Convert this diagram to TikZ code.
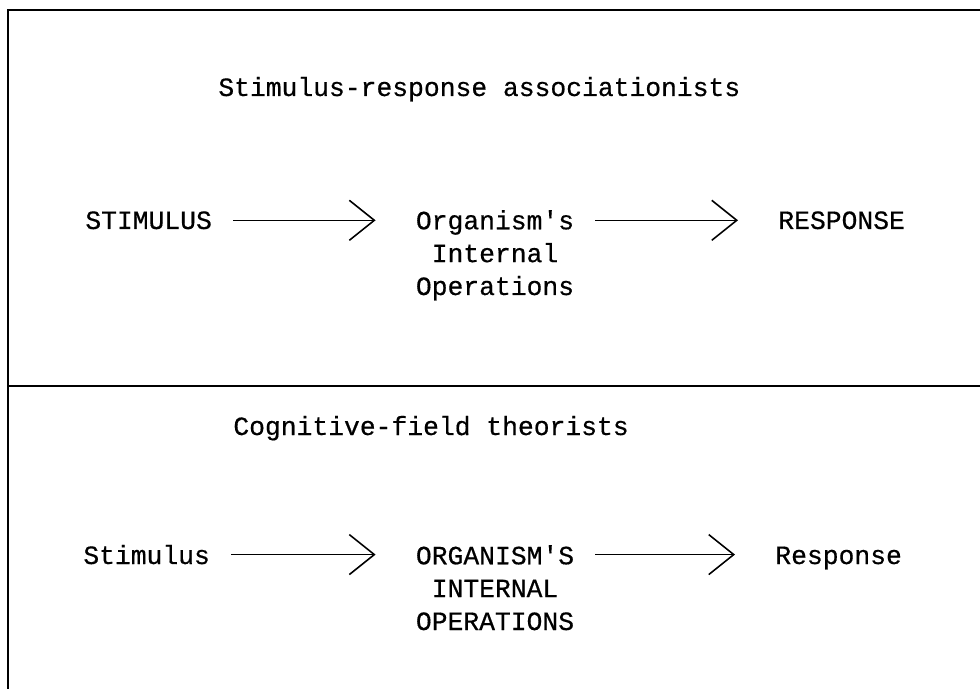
\documentclass[tikz,border=0pt]{standalone}
\usepackage{fontspec}
\setmonofont{Liberation Mono}[FakeBold=0.5]
\usepackage{tikz}
\usetikzlibrary{arrows.meta}
\tikzstyle{txt} = [font=\ttfamily\fontsize{15}{18.7}\selectfont, inner sep=0pt]
\tikzstyle{opsbox} = [txt, align=center]
\tikzstyle{leadsto} = [-{Straight Barb[length=0.5cm,width=0.8cm]}, line width=0.9pt, shorten <=0.42cm, shorten >=0.8cm]

\begin{document}
\begin{tikzpicture}[x=0.02cm,y=-0.02cm]
	\useasboundingbox (0,0) rectangle (980,689);
	\clip (0,0) rectangle (980,689);
	% frame
	\draw[line width=1.2pt] (990,10) -- (8,10) -- (8,700);
	\draw[line width=1.2pt] (8,386) -- (990,386);

	% stimulus-response view
	\node[txt, anchor=base west] (titleA) at (218,96) {Stimulus-response associationists};
	\node[txt, anchor=base west] (stimA) at (85,229) {STIMULUS};
	\node[opsbox, anchor=base] (orgA) at (495,295) {Organism's\\Internal\\Operations};
	\node[txt, anchor=base west] (respA) at (778,229) {RESPONSE};
	\draw[leadsto] (stimA.east) -- (stimA.east -| orgA.west);
	\draw[leadsto] (stimA.east -| orgA.east) -- (stimA.east -| respA.west);

	% cognitive-field view
	\node[txt, anchor=base west] (titleB) at (233,435) {Cognitive-field theorists};
	\node[txt, anchor=base west] (stimB) at (83,564) {Stimulus};
	\node[opsbox, anchor=base] (orgB) at (495,630) {ORGANISM'S\\INTERNAL\\OPERATIONS};
	\node[txt, anchor=base west] (respB) at (775,564) {Response};
	\draw[leadsto] (stimB.east) -- (stimB.east -| orgB.west);
	\draw[leadsto] (stimB.east -| orgB.east) -- (stimB.east -| respB.west);
\end{tikzpicture}
\end{document}
